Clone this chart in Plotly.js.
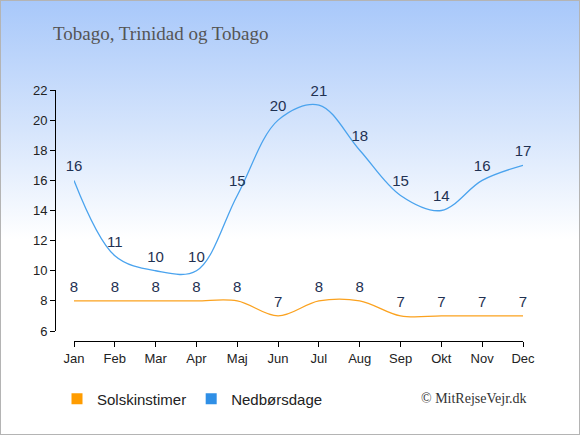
<!DOCTYPE html>
<html>
<head>
<meta charset="utf-8">
<script src="https://cdn.plot.ly/plotly-3.0.1.min.js"></script>
<style>
html,body{margin:0;padding:0;}
#wrap{width:580px;height:435px;box-sizing:border-box;border:1px solid #b4b4b4;
background:linear-gradient(to bottom,#a8c8fa 0%,#d6e5fc 30%,#ffffff 55%,#ffffff 100%);}
#chart{width:578px;height:433px;}
</style>
</head>
<body>
<div id="wrap"><div id="chart"></div></div>
<script>
const months = ["Jan","Feb","Mar","Apr","Maj","Jun","Jul","Aug","Sep","Okt","Nov","Dec"];
const sunHours = [8,8,8,8,8,7,8,8,7,7,7,7];
const rainDays = [16,11,10,10,15,20,21,18,15,14,16,17];
const seriesNames = ["Solskinstimer","Nedbørsdage"];
const yTicks = [6,8,10,12,14,16,18,20,22];
const titleText = "Tobago, Trinidad og Tobago";
const creditText = "© MitRejseVejr.dk";

const idx = months.map((m,i)=>i);
const orange = "#fba21f";
const blue = "#4aa3ee";
const labelFont = {family:"Liberation Sans, Arial, sans-serif", size:15, color:"#1f3152"};
const ghostMarker = {size:7, color:"rgba(0,0,0,0)"};

const traces = [
  {x:idx, y:sunHours, mode:"lines+markers+text", text:sunHours.map(String), textposition:"top center",
   textfont:labelFont, marker:ghostMarker, line:{color:orange,width:1.3,shape:"spline",smoothing:1}, showlegend:false, hoverinfo:"skip", cliponaxis:false},
  {x:idx, y:rainDays, mode:"lines+markers+text", text:rainDays.map(String), textposition:"top center",
   textfont:labelFont, marker:ghostMarker, line:{color:blue,width:1.3,shape:"spline",smoothing:1}, showlegend:false, hoverinfo:"skip", cliponaxis:false},
  {x:[null], y:[null], mode:"markers", name:seriesNames[0], marker:{symbol:"square",size:11,color:"#ff9c00"}},
  {x:[null], y:[null], mode:"markers", name:seriesNames[1], marker:{symbol:"square",size:11,color:"#2f8fe6"}}
];

const tickFont = {family:"Liberation Sans, Arial, sans-serif", size:13, color:"#222"};
const layout = {
  width:578, height:433,
  paper_bgcolor:"rgba(0,0,0,0)", plot_bgcolor:"rgba(0,0,0,0)",
  margin:{l:54,r:56,t:89,b:93},
  title:{text:titleText, x:52/578, xref:"container", xanchor:"left", y:1-32/433, yref:"container", yanchor:"middle",
         font:{family:"Liberation Serif, Times New Roman, serif", size:19, color:"#555"}},
  xaxis:{range:[0,11], domain:[(74-55)/468,1], anchor:"free", position:0,
         tickvals:idx, ticktext:months, showgrid:false, zeroline:false,
         showline:true, linecolor:"#000", linewidth:1, ticks:"outside", ticklen:5, tickcolor:"#000",
         tickfont:tickFont, fixedrange:true},
  yaxis:{range:[6,22], domain:[10/251,1], anchor:"free", position:0,
         tickvals:yTicks, showgrid:false, zeroline:false,
         showline:true, linecolor:"#000", linewidth:1, ticks:"outside", ticklen:5, tickcolor:"#000",
         tickfont:tickFont, fixedrange:true},
  legend:{orientation:"h", x:56/578, xref:"container", y:1-398/433, yref:"container", yanchor:"middle", xanchor:"left",
          font:{family:"Liberation Sans, Arial, sans-serif", size:15, color:"#222"}, bgcolor:"rgba(0,0,0,0)"},
  annotations:[{text:creditText, xref:"paper", yref:"paper", x:1.012, xanchor:"right", y:(341-398)/251, yanchor:"middle",
                showarrow:false, font:{family:"Liberation Serif, Times New Roman, serif", size:14, color:"#333"}}],
  showlegend:true
};
Plotly.newPlot("chart", traces, layout, {displayModeBar:false, staticPlot:true});
</script>
</body>
</html>
